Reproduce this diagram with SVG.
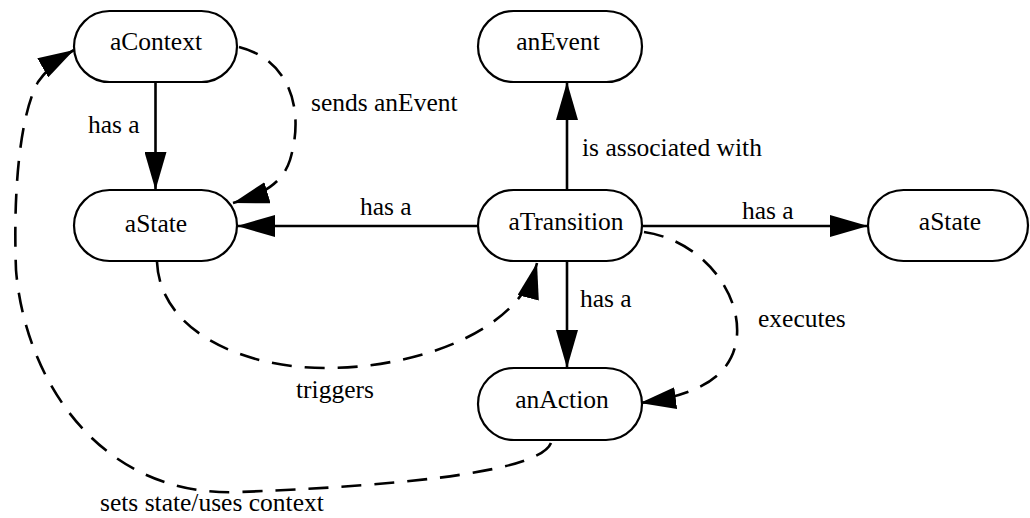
<svg xmlns="http://www.w3.org/2000/svg" width="1030" height="518" viewBox="0 0 1030 518" font-family="'Liberation Serif', 'DejaVu Serif', serif">
<style>
.node rect{fill:#fff;stroke:#000;stroke-width:2.2}
text{font-family:'Liberation Serif', 'DejaVu Serif', serif;font-size:25.5px;fill:#000}
.nl{text-anchor:middle}
.c{fill:none;stroke:#000;stroke-width:2.6}
.d{stroke-dasharray:20 13}
</style>
<defs>
<marker id="ah" markerWidth="38" markerHeight="22" refX="38" refY="11" orient="auto" markerUnits="userSpaceOnUse"><path d="M0,0 L38,11 L0,22 z" fill="#000"/></marker>
<marker id="ahs" markerWidth="36" markerHeight="22" refX="36" refY="11" orient="auto" markerUnits="userSpaceOnUse"><path d="M0,0 L36,11 L0,22 z" fill="#000"/></marker>
</defs>
<g id="connectors">
<path class="c" d="M155.5,82 L155.5,190" marker-end="url(#ah)"/>
<path class="c" d="M478,226 L237,226" marker-end="url(#ah)"/>
<path class="c" d="M567,190 L567,82" marker-end="url(#ah)"/>
<path class="c" d="M642,226 L868,226" marker-end="url(#ah)"/>
<path class="c" d="M567,260 L567,368" marker-end="url(#ah)"/>
<path class="c d" d="M239,47 C290,60 305,110 290,160 C282,185 260,195 233,203" marker-end="url(#ahs)"/>
<path class="c d" d="M157,262 C160,330 240,368 326,368 C420,368 520,330 537,263" marker-end="url(#ahs)"/>
<path class="c d" d="M644,232 C700,240 740,290 737,335 C734,375 700,395 640,403" marker-end="url(#ahs)"/>
<path class="c d" d="M551,443 C540,470 420,485 240,492 C100,498 25,380 16,270 C13,190 20,115 38,82 C48,68 60,58 74,50" marker-end="url(#ahs)"/>
<text x="88" y="133">has a</text>
<text x="311" y="111">sends anEvent</text>
<text x="360" y="215">has a</text>
<text x="582" y="156">is associated with</text>
<text x="742" y="219">has a</text>
<text x="580" y="307">has a</text>
<text x="758" y="327">executes</text>
<text x="296" y="398">triggers</text>
<text x="100" y="511">sets state/uses context</text>
</g>
<g id="aContext" class="node"><rect x="74" y="11" width="163" height="71" rx="35.5"/><text class="nl" x="156" y="50">aContext</text></g>
<g id="aState1" class="node"><rect x="74" y="190" width="163" height="71" rx="35.5"/><text class="nl" x="156" y="232">aState</text></g>
<g id="anEvent" class="node"><rect x="478" y="11" width="164" height="71" rx="35.5"/><text class="nl" x="558" y="50">anEvent</text></g>
<g id="aTransition" class="node"><rect x="478" y="190" width="164" height="71" rx="35.5"/><text class="nl" x="566" y="230">aTransition</text></g>
<g id="aState2" class="node"><rect x="868" y="190" width="160" height="71" rx="35.5"/><text class="nl" x="950" y="230">aState</text></g>
<g id="anAction" class="node"><rect x="478" y="368" width="164" height="72" rx="36"/><text class="nl" x="562" y="408">anAction</text></g>
</svg>
